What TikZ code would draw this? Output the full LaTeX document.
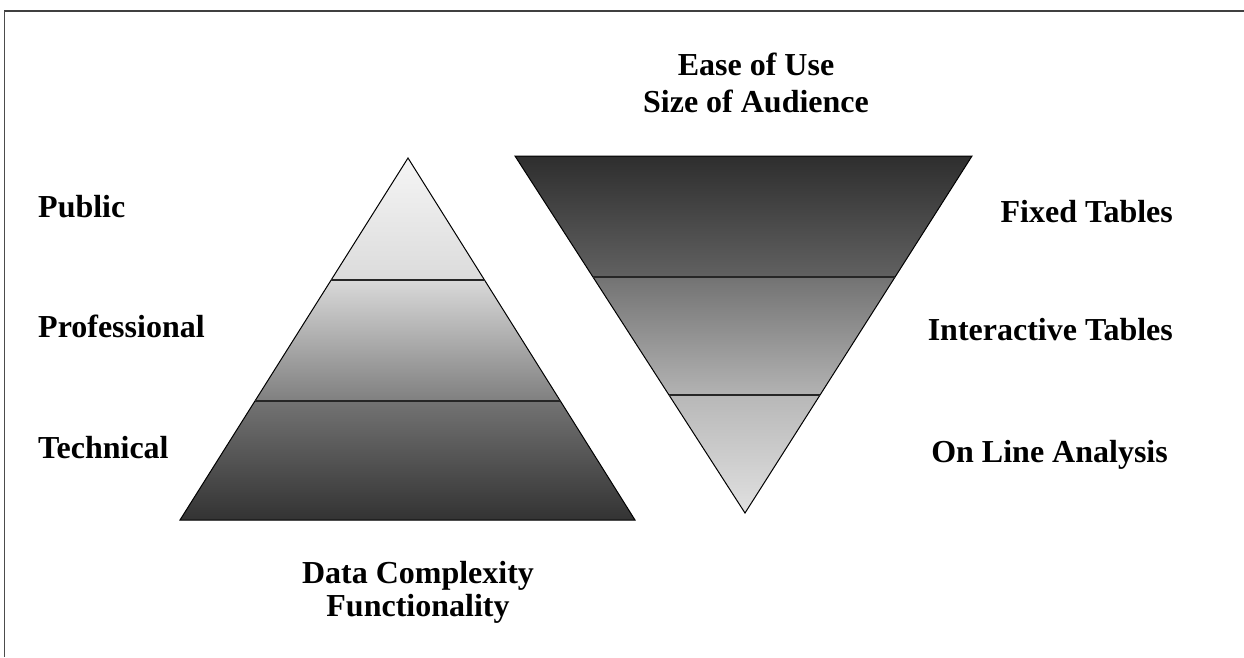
\documentclass[tikz,border=0pt]{standalone}
\usepackage{fontspec}
\setmainfont{Liberation Serif}
\usetikzlibrary{calc}
\tikzset{
  lbl/.style={font=\fontsize{32}{37}\selectfont\bfseries, inner sep=0pt, anchor=base west},
  lblr/.style={font=\fontsize{32}{37}\selectfont\bfseries, inner sep=0pt, anchor=base east},
  title/.style={font=\fontsize{32}{37}\selectfont\bfseries, inner sep=0pt, align=center, anchor=base},
  edge/.style={draw=black, line width=1pt},
  divider/.style={draw=black!85, line width=1.6pt},
}
\begin{document}
\begin{tikzpicture}[x=1pt,y=-1pt]
\useasboundingbox (0,0) rectangle (1244,657);
\fill[white] (0,0) rectangle (1244,657);
% frame
\draw[black!75, line width=2pt] (4,11) -- (1244,11);
\draw[black!70, line width=1pt] (4,11) -- (4,657);

% left pyramid
\coordinate (LA) at (408,158);
\coordinate (LL) at (180,520);
\coordinate (LR) at (635,520);
\coordinate (L1l) at ($(LA)!0.337!(LL)$);
\coordinate (L1r) at ($(LA)!0.337!(LR)$);
\coordinate (L2l) at ($(LA)!0.671!(LL)$);
\coordinate (L2r) at ($(LA)!0.671!(LR)$);
\shade[top color=black!4, bottom color=black!14] (LA) -- (L1r) -- (L1l) -- cycle;
\shade[top color=black!15, bottom color=black!50] (L1l) -- (L1r) -- (L2r) -- (L2l) -- cycle;
\shade[top color=black!55, bottom color=black!80] (L2l) -- (L2r) -- (LR) -- (LL) -- cycle;
\draw[edge] (LA) -- (LR) -- (LL) -- cycle;
\draw[divider] (L1l) -- (L1r);
\draw[divider] (L2l) -- (L2r);

% right inverted pyramid
\coordinate (RA) at (745,513);
\coordinate (RL) at (515,156);
\coordinate (RR) at (972,156);
\coordinate (R1l) at ($(RL)!0.339!(RA)$);
\coordinate (R1r) at ($(RR)!0.339!(RA)$);
\coordinate (R2l) at ($(RL)!0.669!(RA)$);
\coordinate (R2r) at ($(RR)!0.669!(RA)$);
\shade[top color=black!82, bottom color=black!62] (RL) -- (RR) -- (R1r) -- (R1l) -- cycle;
\shade[top color=black!55, bottom color=black!30] (R1l) -- (R1r) -- (R2r) -- (R2l) -- cycle;
\shade[top color=black!28, bottom color=black!12] (R2l) -- (R2r) -- (RA) -- cycle;
\draw[edge] (RL) -- (RR) -- (RA) -- cycle;
\draw[divider] (R1l) -- (R1r);
\draw[divider] (R2l) -- (R2r);

% labels
\node[lbl] (pub) at (38,217) {Public};
\node[lbl] (pro) at (38,337) {Professional};
\node[lbl] (tec) at (38,458) {Technical};
\node[lblr] (fix) at (1173,222) {Fixed Tables};
\node[lblr] (int) at (1173,340) {Interactive Tables};
\node[lblr] (onl) at (1168,462) {On Line Analysis};
\node[title] (ease) at (756,75) {Ease of Use};
\node[title] (size) at (756,112) {Size of Audience};
\node[title] (data) at (418,583) {Data Complexity};
\node[title] (func) at (418,616) {Functionality};
\end{tikzpicture}
\end{document}
